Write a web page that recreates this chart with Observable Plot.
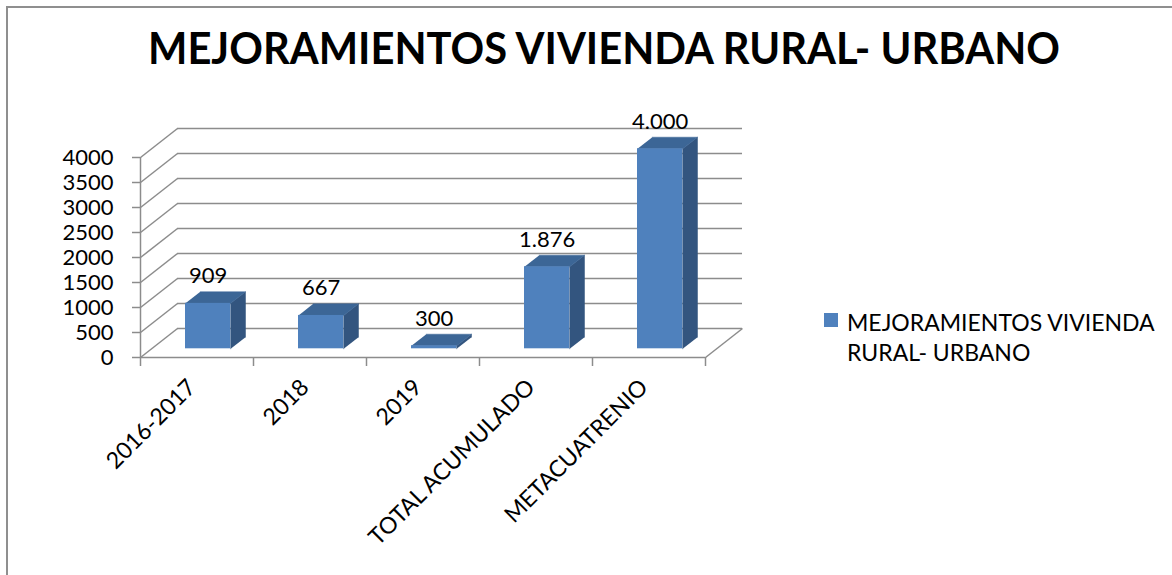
<!DOCTYPE html>
<html><head><meta charset="utf-8">
<script src="https://cdn.jsdelivr.net/npm/d3@7"></script>
<script src="https://cdn.jsdelivr.net/npm/@observablehq/plot@0.6"></script>
<style>
html,body{margin:0;padding:0;background:#fff;overflow:hidden;}
#wrap{position:relative;width:1172px;height:575px;overflow:hidden;font-family:Lato,"Open Sans",sans-serif;color:#000;}
#frame{position:absolute;left:6px;top:6px;width:1220px;height:640px;border-left:2px solid #8f8f8f;border-top:2px solid #8f8f8f;}
#chart{position:absolute;left:0;top:0;}
#title{position:absolute;left:604px;top:24px;font-weight:700;font-size:44px;line-height:46px;white-space:nowrap;transform-origin:center center;}
#legend{position:absolute;left:824px;top:307px;}
#legend .sw{position:absolute;left:0;top:6px;width:14px;height:14px;background:#4f81bd;}
#legend .tx{position:absolute;left:23px;top:0;width:330px;font-size:23px;line-height:30px;}
</style></head>
<body><div id="wrap"><div id="frame"></div><div id="chart"></div><div id="title"></div><div id="legend"></div></div>
<script>
// ---- data ----
const chartTitle = "MEJORAMIENTOS VIVIENDA RURAL- URBANO";
const seriesName = "MEJORAMIENTOS VIVIENDA RURAL- URBANO";
const categories = ["2016-2017", "2018", "2019", "TOTAL ACUMULADO", "METACUATRENIO"];
const barValues = [909, 667, 60, 1640, 4000];           // bar heights as drawn
const dataLabels = ["909", "667", "300", "1.876", "4.000"]; // label texts as printed
const yTicks = [0, 500, 1000, 1500, 2000, 2500, 3000, 3500, 4000];

// ---- layout ----
const W = 1172, H = 575;
const mL = 140, mR = 467, mT = 157, mB = 218;
const xDomain = [0, categories.length], yDomain = [0, 4000];
const pxX = (W - mL - mR) / (xDomain[1] - xDomain[0]);
const pxY = (H - mT - mB) / (yDomain[1] - yDomain[0]);
// oblique depth of the back wall, in pixels -> data units
const wallPx = [37, 29];
const wdx = wallPx[0] / pxX, wdy = wallPx[1] / pxY;
const barW = [0.3, 0.7], barD = [0.3, 0.7];
const labelShift = [-13, -9]; // screen px shift of category labels
const grid = "#8c8c8c";
const cFront = "#4f81bd", cTop = "#3c6696", cSide = "#33557f";

const bars = categories.map((c, i) => {
  const x1 = i + barW[0] + barD[0] * wdx, x2 = i + barW[1] + barD[0] * wdx;
  const y0 = barD[0] * wdy, yt = barValues[i] + barD[0] * wdy;
  const ddx = (barD[1] - barD[0]) * wdx, ddy = (barD[1] - barD[0]) * wdy;
  return {c, i, x1, x2, y0, yt, ddx, ddy, label: dataLabels[i]};
});
const topPts = bars.flatMap(b => [[b.x1, b.yt], [b.x2, b.yt], [b.x2 + b.ddx, b.yt + b.ddy], [b.x1 + b.ddx, b.yt + b.ddy]].map(([x, y]) => ({x, y, k: b.c})));
const sidePts = bars.flatMap(b => [[b.x2, b.y0], [b.x2, b.yt], [b.x2 + b.ddx, b.yt + b.ddy], [b.x2 + b.ddx, b.y0 + b.ddy]].map(([x, y]) => ({x, y, k: b.c})));

const plot = Plot.plot({
  width: W, height: H,
  marginLeft: mL, marginRight: mR, marginTop: mT, marginBottom: mB,
  x: {domain: xDomain},
  y: {domain: yDomain},
  style: {fontFamily: "Lato, 'Open Sans', sans-serif", fontSize: "22px", color: "#000", background: "transparent", overflow: "visible"},
  marks: [
    // back wall gridlines
    Plot.ruleY(yTicks, {y: d => d + wdy, x1: wdx, x2: xDomain[1] + wdx, stroke: grid, strokeWidth: 1.5}),
    // side wall diagonals
    Plot.link(yTicks, {x1: 0, y1: d => d, x2: wdx, y2: d => d + wdy, stroke: grid, strokeWidth: 1.5}),
    // floor edges
    Plot.ruleY([0], {x1: 0, x2: xDomain[1], stroke: grid, strokeWidth: 1.5}),
    Plot.link([0], {x1: xDomain[1], y1: 0, x2: xDomain[1] + wdx, y2: wdy, stroke: grid, strokeWidth: 1.5}),
    // front vertical axis
    Plot.ruleX([0], {y1: yDomain[0], y2: yDomain[1], stroke: grid, strokeWidth: 1.5}),
    Plot.axisY({ticks: yTicks, tickSize: 8, tickPadding: 19, tickFormat: d => String(d), stroke: grid, strokeWidth: 1.5, fontSize: 22}),
    Plot.axisX({ticks: d3.range(categories.length + 1), tickSize: 9, tickFormat: () => "", stroke: grid, strokeWidth: 1.5}),
    // bars
    Plot.line(sidePts, {x: "x", y: "y", z: "k", fill: cSide, stroke: cSide, strokeWidth: 0.5}),
    Plot.line(topPts, {x: "x", y: "y", z: "k", fill: cTop, stroke: cTop, strokeWidth: 0.5}),
    Plot.rect(bars, {x1: "x1", x2: "x2", y1: "y0", y2: "yt", fill: cFront}),
    // value labels
    Plot.text(bars, {x: b => b.i + 0.5 + barD[0] * wdx, y: "yt", text: "label", dy: -27, fontSize: 22}),
    // category labels
    Plot.text(categories, {x: (d, i) => i + 0.5 + labelShift[0] / pxX, y: -labelShift[1] / pxY, text: d => d, rotate: -45, textAnchor: "end", lineAnchor: "middle", dx: 8, dy: 35, fontSize: 23})
  ]
});
document.getElementById("chart").appendChild(plot);

// title
const t = document.getElementById("title");
t.textContent = chartTitle;
const tw = t.getBoundingClientRect().width;
t.style.transform = `translateX(-50%) scaleX(${912 / tw})`;

// legend
const lg = document.getElementById("legend");
const sw = document.createElement("div"); sw.className = "sw"; lg.appendChild(sw);
const tx = document.createElement("div"); tx.className = "tx"; tx.textContent = seriesName; lg.appendChild(tx);
</script>
</body></html>
